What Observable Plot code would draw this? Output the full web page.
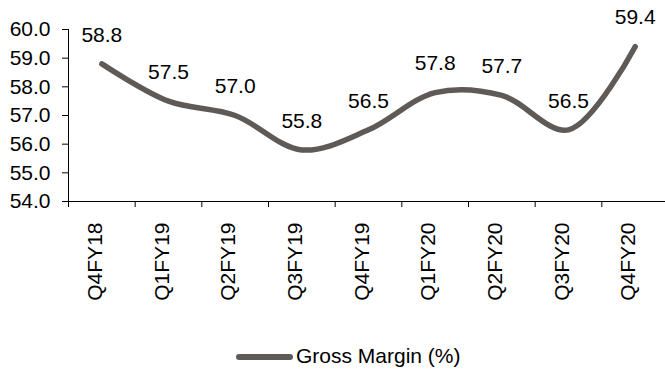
<!DOCTYPE html>
<html>
<head>
<meta charset="utf-8">
<script src="https://cdn.jsdelivr.net/npm/d3@7"></script>
<script src="https://cdn.jsdelivr.net/npm/@observablehq/plot@0.6"></script>
<style>
  html, body { margin: 0; padding: 0; background: #fff; }
  body { width: 665px; height: 372px; overflow: hidden; font-family: Arial, "Liberation Sans", sans-serif; }
  #legend { position: relative; height: 32px; }
  #legend .sw { position: absolute; left: 236px; top: 14px; width: 57px; height: 6px; border-radius: 3px; background: #605a57; }
  #legend .tx { position: absolute; left: 296px; top: 4px; font-size: 21px; line-height: 24px; color: #000; white-space: nowrap; }
</style>
</head>
<body>
<div id="chart"></div>
<div id="legend"><div class="sw"></div><div class="tx">Gross Margin (%)</div></div>
<script>
const categories = ["Q4FY18","Q1FY19","Q2FY19","Q3FY19","Q4FY19","Q1FY20","Q2FY20","Q3FY20","Q4FY20"];
const grossMargin = [58.8, 57.5, 57.0, 55.8, 56.5, 57.8, 57.7, 56.5, 59.4];
const yTicks = [54, 55, 56, 57, 58, 59, 60];
const seriesName = "Gross Margin (%)";

const data = categories.map((c, i) => ({cat: c, i, v: grossMargin[i]}));
const xTicks = categories.map((c, i) => i - 0.5);
const color = "#605a57";
const font = "Arial, 'Liberation Sans', sans-serif";

const chart = Plot.plot({
  width: 665,
  height: 340,
  marginTop: 29,
  marginBottom: 139,
  marginLeft: 68,
  marginRight: 0,
  style: {fontFamily: font, fontSize: "21px", color: "#000", background: "#fff", overflow: "visible"},
  x: {domain: [-0.5, categories.length - 0.5], range: [68, 668]},
  y: {domain: [54, 60]},
  marks: [
    Plot.axisY({ticks: yTicks, tickFormat: d => d.toFixed(1), tickSize: 6, tickPadding: 12, label: null, fontSize: 21, stroke: "#000"}),
    Plot.axisX({ticks: xTicks, tickFormat: () => "", tickSize: 6, label: null, stroke: "#000"}),
    Plot.ruleY([54], {stroke: "#000", strokeWidth: 1}),
    Plot.ruleX([-0.5], {y1: 54, y2: 60, stroke: "#000", strokeWidth: 1}),
    Plot.line(data, {x: "i", y: "v", curve: "catmull-rom", stroke: color, strokeWidth: 5.5, strokeLinecap: "round", strokeLinejoin: "round"}),
    Plot.text(data, {x: "i", y: "v", text: d => d.v.toFixed(1), dy: -29, fontSize: 21, fill: "#000"}),
    Plot.text(data, {x: "i", frameAnchor: "bottom", text: "cat", rotate: -90, textAnchor: "end", dy: 21, fontSize: 21, fill: "#000"})
  ]
});
document.getElementById("chart").appendChild(chart);
</script>
</body>
</html>
